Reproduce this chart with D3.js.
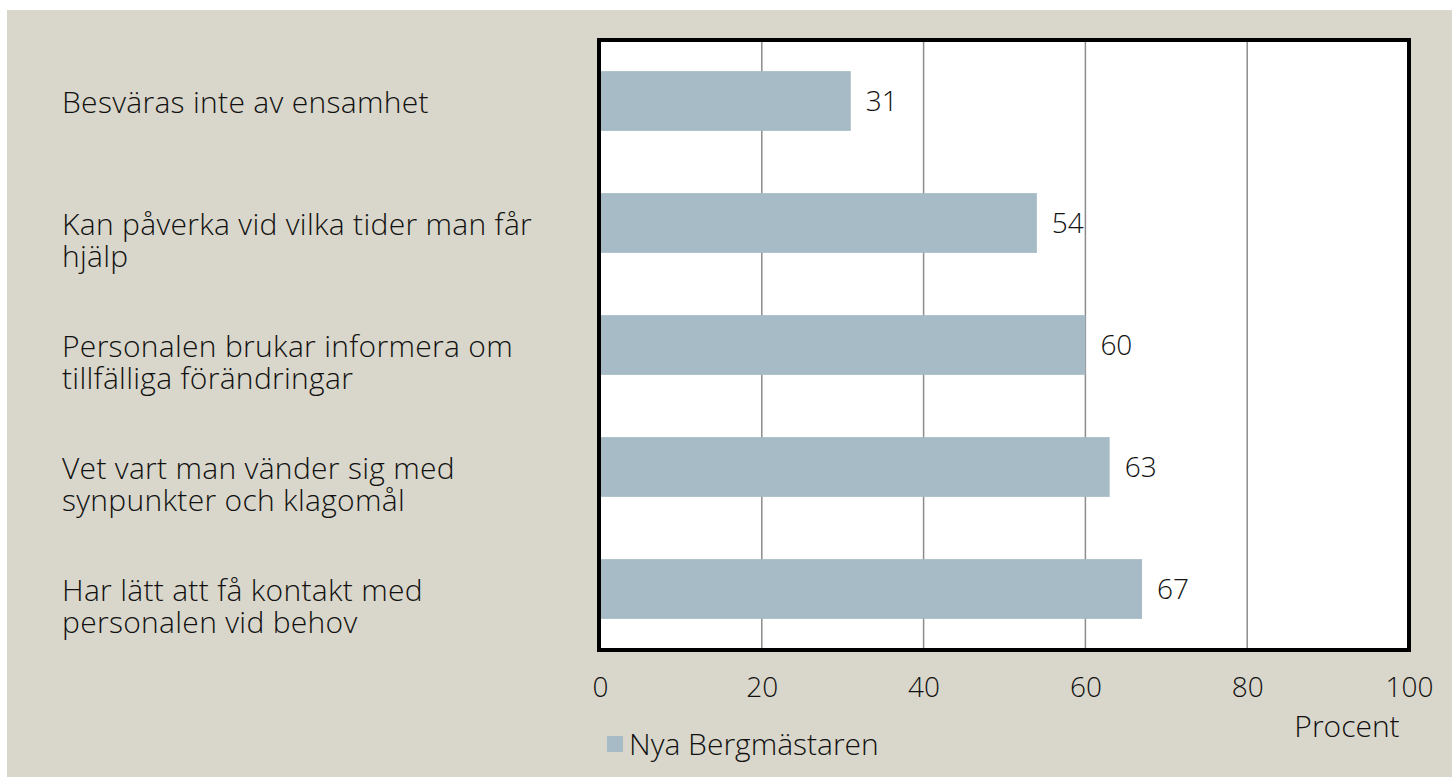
<!DOCTYPE html>
<html>
<head>
<meta charset="utf-8">
<script src="https://cdn.jsdelivr.net/npm/d3@7"></script>
<style>
  html, body { margin: 0; padding: 0; background: #fff; }
  text { font-family: "Open Sans", sans-serif; font-weight: 300; fill: #111; }
</style>
</head>
<body>
<svg id="chart" width="1452" height="777"></svg>
<script>
// Data
var categories = [
    ["Besväras inte av ensamhet"],
    ["Kan påverka vid vilka tider man får", "hjälp"],
    ["Personalen brukar informera om", "tillfälliga förändringar"],
    ["Vet vart man vänder sig med", "synpunkter och klagomål"],
    ["Har lätt att få kontakt med", "personalen vid behov"]
];
var values = [31, 54, 60, 63, 67];
var xTicks = [0, 20, 40, 60, 80, 100];
var seriesName = "Nya Bergmästaren";
var axisTitle = "Procent";

// Dimension
var svg = d3.select("#chart");
var plot = { left: 600, right: 1409, top: 40, bottom: 650 };
var numSize = 28;
var wordSize = 30;
var barColor = "#a7bbc6";

// Background panel
svg.append("rect")
    .attr("x", 7)
    .attr("y", 10)
    .attr("width", 1452 - 7)
    .attr("height", 777 - 10)
    .style("fill", "#d9d7cb");

// Scales
var x = d3.scaleLinear().domain([0, 100]).range([plot.left, plot.right]);
var y = d3.scaleBand()
    .domain(d3.range(categories.length))
    .range([plot.top, plot.bottom])
    .paddingInner(0.51)
    .paddingOuter(0.255);

// Plot area
svg.append("rect")
    .attr("x", plot.left)
    .attr("y", plot.top)
    .attr("width", plot.right - plot.left)
    .attr("height", plot.bottom - plot.top)
    .style("fill", "#fff");

// Gridlines
svg.append("g")
    .selectAll("line")
    .data(xTicks.slice(1, -1))
    .enter().append("line")
    .attr("x1", d => x(d))
    .attr("x2", d => x(d))
    .attr("y1", plot.top)
    .attr("y2", plot.bottom)
    .style("stroke", "#8c8c8c")
    .style("stroke-width", 1.5);

// Bars
svg.append("g")
    .selectAll("rect")
    .data(values)
    .enter().append("rect")
    .attr("x", x(0))
    .attr("y", (d, i) => y(i))
    .attr("width", d => x(d) - x(0))
    .attr("height", y.bandwidth())
    .style("fill", barColor);

// Value labels
svg.append("g")
    .selectAll("text")
    .data(values)
    .enter().append("text")
    .text(d => d)
    .attr("x", d => x(d) + 15)
    .attr("y", (d, i) => y(i) + y.bandwidth() / 2)
    .attr("dy", "0.35em")
    .attr("font-size", numSize);

// Border
svg.append("rect")
    .attr("x", plot.left - 1)
    .attr("y", plot.top)
    .attr("width", plot.right - plot.left + 1)
    .attr("height", plot.bottom - plot.top)
    .style("fill", "none")
    .style("stroke", "#000")
    .style("stroke-width", 4);

// Category labels (left, wrapped)
var cat = svg.append("g")
    .selectAll("text")
    .data(categories)
    .enter().append("text")
    .attr("x", 62)
    .attr("y", (d, i) => y(i) + y.bandwidth() / 2 + 12)
    .attr("font-size", wordSize)
    .style("letter-spacing", "0.3px");
cat.selectAll("tspan")
    .data(d => d)
    .enter().append("tspan")
    .attr("x", 62)
    .attr("dy", (d, i) => i === 0 ? 0 : 32)
    .text(d => d);

// X axis tick labels
var xAxis = d3.axisBottom(x)
    .tickValues(xTicks)
    .tickSize(0)
    .tickPadding(0);
var axisG = svg.append("g")
    .attr("transform", `translate(0, ${plot.bottom + 47})`)
    .call(xAxis);
axisG.select(".domain").remove();
axisG.selectAll("text")
    .attr("dy", 0)
    .attr("font-size", numSize)
    .attr("font-family", null)
    .style("fill", "#111");

// Axis title
svg.append("text")
    .text(axisTitle)
    .attr("x", 1347)
    .attr("y", 737)
    .attr("text-anchor", "middle")
    .attr("font-size", wordSize);

// Legend
svg.append("rect")
    .attr("x", 607)
    .attr("y", 736)
    .attr("width", 16)
    .attr("height", 16)
    .style("fill", barColor);
svg.append("text")
    .text(seriesName)
    .attr("x", 629)
    .attr("y", 755)
    .attr("font-size", wordSize);
</script>
</body>
</html>
